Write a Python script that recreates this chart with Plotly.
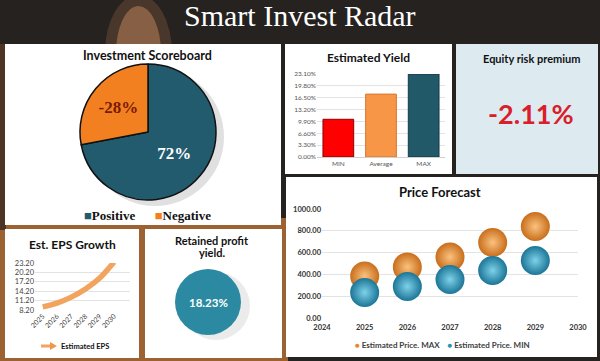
import plotly.graph_objects as go

W, H = 600, 361
def X(p): return p / W
def Y(p): return 1 - p / H

# ---------------- data ----------------
main_title = "Smart Invest Radar"

score_labels = ["Positive", "Negative"]
score_values = [72, 28]
score_text = ["72%", "-28%"]

yield_cats = ["MIN", "Average", "MAX"]
yield_vals = [10.5, 17.5, 23.1]
yield_ticks = [0, 3.3, 6.6, 9.9, 13.2, 16.5, 19.8, 23.1]

equity_premium = "-2.11%"

eps_years = ["2025", "2026", "2027", "2028", "2029", "2030"]
eps_vals = [9.2, 10.4, 12.3, 14.9, 18.4, 23.5]
eps_ticks = [8.2, 11.2, 14.2, 17.2, 20.2, 23.2]

retained_yield = "18.23%"

price_years = [2025, 2026, 2027, 2028, 2029]
price_max = [385, 468, 560, 693, 839]
price_min = [234, 289, 353, 436, 528]
price_ticks = [0, 200, 400, 600, 800, 1000]
price_xticks = [2024, 2025, 2026, 2027, 2028, 2029, 2030]

# ---------------- colours ----------------
TEAL_DARK = "#235B6E"
ORANGE = "#F38020"
BAR_COLORS = ["#FF0000", "#F79646", "#215968"]
BAR_LINES = ["#8B0000", "#D9772B", "#14394A"]
SANS = "Lato"
SERIF = "Liberation Serif"

fig = go.Figure()

# ---------------- pie ----------------
fig.add_trace(go.Pie(
    labels=score_labels, values=score_values,
    text=["<b>%s</b>" % t for t in score_text],
    textinfo="text", sort=False, direction="clockwise", rotation=0,
    marker=dict(colors=[TEAL_DARK, ORANGE], line=dict(color="#111111", width=1.5)),
    textfont=dict(family=SERIF, size=17, color=["#FFFFFF", "#7A1A05"]),
    insidetextorientation="horizontal", showlegend=False,
    domain=dict(x=[X(80), X(216)], y=[Y(200), Y(64)]),
    hoverinfo="skip",
))

# ---------------- yield bars ----------------
fig.add_trace(go.Bar(
    x=yield_cats, y=yield_vals, xaxis="x", yaxis="y",
    marker=dict(color=BAR_COLORS, line=dict(color=BAR_LINES, width=1)),
    width=0.72, showlegend=False,
))

# ---------------- EPS line ----------------
fig.add_trace(go.Scatter(
    x=eps_years, y=eps_vals, xaxis="x2", yaxis="y2",
    mode="lines+markers",
    line=dict(color="#F2A35E", width=5.5, shape="spline"),
    marker=dict(symbol="arrow", angleref="previous",
                size=[0] * (len(eps_vals) - 1) + [18], color="#F0974A"),
    cliponaxis=False, showlegend=False,
))

# ---------------- price bubbles ----------------
fig.add_trace(go.Scatter(
    x=price_years, y=price_max, xaxis="x3", yaxis="y3", mode="markers",
    marker=dict(size=29, color="#C86E1C", gradient=dict(type="radial", color="#FBC27E"),
                line=dict(width=0)),
    cliponaxis=False, showlegend=False,
))
fig.add_trace(go.Scatter(
    x=price_years, y=price_min, xaxis="x3", yaxis="y3", mode="markers",
    marker=dict(size=29, color="#1B7596", gradient=dict(type="radial", color="#7ED2EA"),
                line=dict(width=0)),
    cliponaxis=False, showlegend=False,
))

# ---------------- background & panels ----------------
shapes = []
def rect(x0, y0, x1, y1, fill, line=None, layer="below"):
    shapes.append(dict(type="rect", xref="paper", yref="paper",
                       x0=X(x0), x1=X(x1), y0=Y(y1), y1=Y(y0),
                       fillcolor=fill, line=dict(width=0) if line is None else line,
                       layer=layer))
def ellipse(x0, y0, x1, y1, fill):
    shapes.append(dict(type="circle", xref="paper", yref="paper",
                       x0=X(x0), x1=X(x1), y0=Y(y1), y1=Y(y0),
                       fillcolor=fill, line=dict(width=0), layer="below"))

# warm glow areas of the backdrop
rect(0, 218, 288, 361, "#9C6232")
ellipse(105, -5, 172, 110, "rgba(140,95,65,0.35)")
ellipse(116, 6, 161, 100, "rgba(185,130,90,0.55)")
rect(0, 44, 6, 230, "#4E3424")
# panels
rect(5, 44, 281, 225, "#FFFFFF")
rect(285, 44, 452, 174, "#FFFFFF")
rect(456, 44, 598, 174, "#DDEBF1")
rect(5, 229, 139, 358, "#FFFFFF")
rect(145, 229, 282, 358, "#FFFFFF")
rect(286, 177, 597, 357, "#FFFFFF")

# pie shadow
ellipse(86, 68, 224, 206, "rgba(0,0,0,0.12)")
# retained profit shadow + circle
ellipse(182, 272, 250, 340, "rgba(0,0,0,0.08)")
ellipse(175, 269, 241, 335, "#2B8AA2")
# EPS legend arrow
shapes.append(dict(type="line", xref="paper", yref="paper",
                   x0=X(41), x1=X(51), y0=Y(346), y1=Y(346),
                   line=dict(color="#F2A35E", width=3), layer="above"))
shapes.append(dict(type="path", xref="paper", yref="paper",
                   path="M %f %f L %f %f L %f %f Z" % (X(50), Y(342), X(57), Y(346), X(50), Y(350)),
                   fillcolor="#F0974A", line=dict(width=0), layer="above"))

# ---------------- annotations ----------------
ann = []
def text(x, y, s, size, color="#111111", family=SANS, bold=True, xanchor="center"):
    ann.append(dict(xref="paper", yref="paper", x=X(x), y=Y(y), text=("<b>%s</b>" % s) if bold else s,
                    showarrow=False, xanchor=xanchor, yanchor="middle",
                    font=dict(family=family, size=size, color=color)))

text(300, 15, main_title, 30, color="#FFFFFF", family=SERIF, bold=False)
text(147, 56, "Investment Scoreboard", 12.5)
text(368, 57, "Estimated Yield", 12)
text(531, 58, "Equity risk premium", 11)
text(531, 113, equity_premium, 27, color="#D9202A")
text(72, 245, "Est. EPS Growth", 12)
text(212, 240, "Retained profit", 11)
text(212, 252, "yield.", 11)
text(208, 302, retained_yield, 11.5, color="#FFFFFF")
text(440, 192, "Price Forecast", 13)

# pie legend
text(147, 215, "<span style='color:%s'>■</span>Positive      <span style='color:%s'>■</span>Negative"
     % (TEAL_DARK, ORANGE), 13, color="#111111", family=SERIF)

# EPS legend label
text(59, 346, "Estimated EPS", 7.5, xanchor="left")

# price legend
text(442, 345, "<span style='color:#E08A32'>●</span> Estimated Price. MAX    "
     "<span style='color:#2B93B5'>●</span> Estimated Price. MIN", 8, color="#404040")

grid = "#E3E3E3"
tickfont = dict(family=SANS, size=6.5, color="#555555")
fig.update_layout(
    width=W, height=H, margin=dict(l=0, r=0, t=0, b=0, autoexpand=False),
    paper_bgcolor="#262220", plot_bgcolor="rgba(0,0,0,0)",
    shapes=shapes, annotations=ann, showlegend=False,
    xaxis=dict(domain=[X(317), X(445)], anchor="y", tickfont=tickfont, showgrid=False,
               showline=True, linecolor="#D0D0D0", ticks="", automargin=False),
    yaxis=dict(domain=[Y(157), Y(74)], anchor="x", range=[0, 23.1], tickvals=yield_ticks,
               ticktext=["%.2f%%" % v for v in yield_ticks], tickfont=tickfont,
               gridcolor=grid, gridwidth=0.6, zeroline=False, showline=False, automargin=False),
    xaxis2=dict(domain=[X(35), X(130)], anchor="y2", type="category", tickangle=-45,
                tickfont=dict(family=SANS, size=7, color="#444444"), showgrid=False,
                showline=False, ticks="", automargin=False),
    yaxis2=dict(domain=[Y(310), Y(263)], anchor="x2", range=[8.2, 23.2], tickvals=eps_ticks,
                ticktext=["%.2f" % v for v in eps_ticks],
                tickfont=dict(family=SANS, size=7.5, color="#444444"),
                gridcolor=grid, gridwidth=0.6, zeroline=False, automargin=False),
    xaxis3=dict(domain=[X(322), X(578)], anchor="y3", range=[2024, 2030], tickvals=price_xticks,
                tickfont=dict(family=SANS, size=7.5, color="#333333", weight="bold"),
                showgrid=False, showline=False, zeroline=False, ticks="",
                ticklabelstandoff=3, automargin=False),
    yaxis3=dict(domain=[Y(318), Y(209)], anchor="x3", range=[0, 1000], tickvals=price_ticks,
                ticktext=["%.2f" % v for v in price_ticks],
                tickfont=dict(family=SANS, size=7.5, color="#333333", weight="bold"),
                gridcolor=grid, gridwidth=0.6, zeroline=False, automargin=False),
)

fig.write_html("out.html", config={"displayModeBar": False},
               post_script="document.body.style.margin='0';")
